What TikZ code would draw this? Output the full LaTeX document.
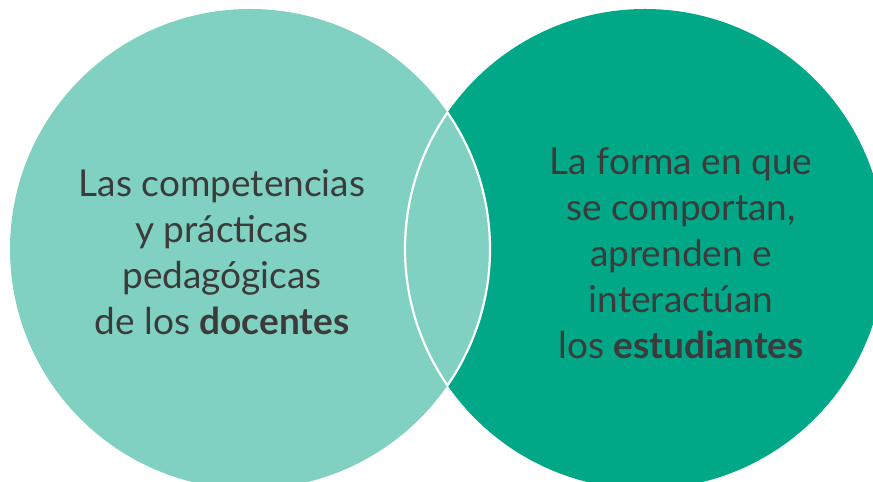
\documentclass[tikz,border=0pt]{standalone}
\usepackage{fontspec}
\setmainfont{Lato}
\definecolor{tealclaro}{HTML}{80D1C1}
\definecolor{tealoscuro}{HTML}{00A887}
\definecolor{textogris}{HTML}{3B3B3B}
\begin{document}
\begin{tikzpicture}[x=1pt,y=1pt,
    texto/.style={align=center,text=textogris,font=\fontsize{37}{46}\selectfont}]
	\pgfmathsetmacro{\rad}{240} % radius of both circles
	\pgfmathsetmacro{\cy}{233}
	\useasboundingbox (0,0) rectangle (873,482);

	% Circles
	\fill[tealoscuro] (645,\cy) circle (\rad);
	\fill[tealclaro] (250,\cy) circle (\rad);

	% White outline of the overlap
	\begin{scope}
		\clip (250,\cy) circle (\rad);
		\draw[white, line width=2.2pt] (645,\cy) circle (\rad);
	\end{scope}
	\begin{scope}
		\clip (645,\cy) circle (\rad);
		\draw[white, line width=2.2pt] (250,\cy) circle (\rad);
	\end{scope}

	% Texts
	\node[texto] (docentes) at (222,230) {Las competencias\\y prácticas\\pedagógicas\\de los \textbf{docentes}};
	\node[texto] (estudiantes) at (681,229) {La forma en que\\se comportan,\\aprenden e\\interactúan\\los \textbf{estudiantes}};
\end{tikzpicture}
\end{document}
